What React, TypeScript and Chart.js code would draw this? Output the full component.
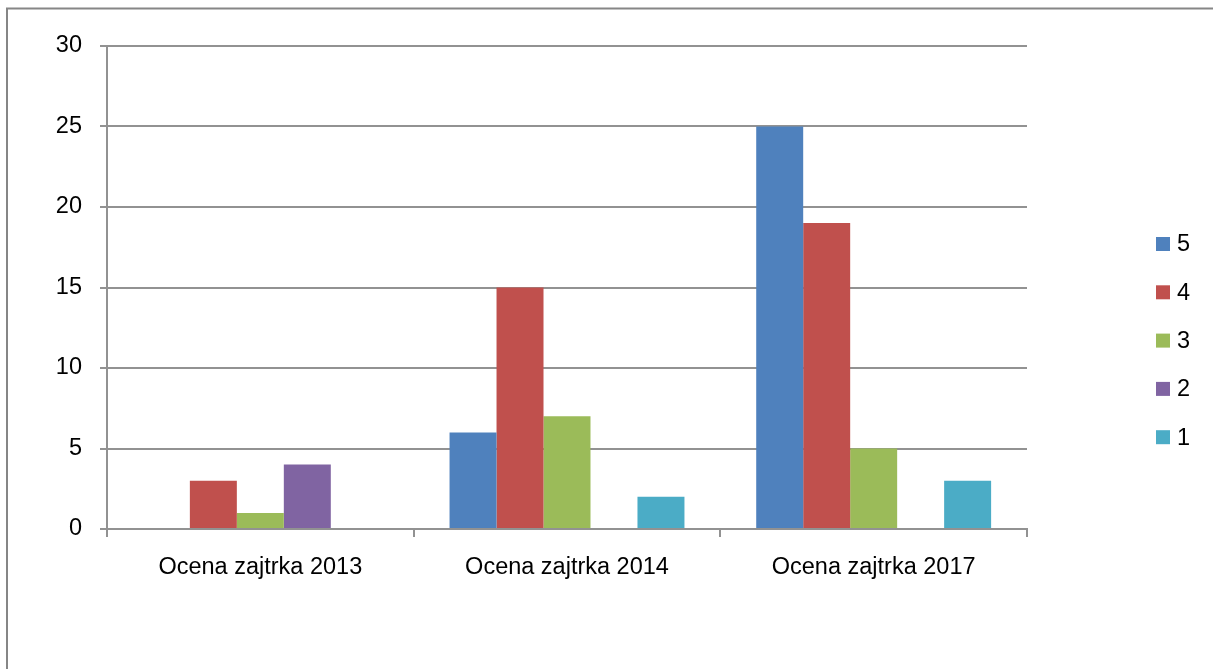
import React, { useEffect, useRef } from "react";
import { Chart, registerables } from "chart.js";

Chart.register(...registerables);

const categories = ["Ocena zajtrka 2013", "Ocena zajtrka 2014", "Ocena zajtrka 2017"];
const seriesLabels = ["5", "4", "3", "2", "1"];
const grade5 = [0, 6, 25];
const grade4 = [3, 15, 19];
const grade3 = [1, 7, 5];
const grade2 = [4, 0, 0];
const grade1 = [0, 2, 3];
const seriesValues = [grade5, grade4, grade3, grade2, grade1];
const seriesColors = ["#4F81BD", "#C0504D", "#9BBB59", "#8064A2", "#4BACC6"];
const yMax = 30;
const yStep = 5;

const FONT_FAMILY = '"Liberation Sans", Arial, sans-serif';
const FONT_SIZE = 23.5;
const GRID = "#929292";

const framePlugin = {
  id: "frame",
  beforeDraw(chart: any) {
    const ctx = chart.ctx;
    ctx.save();
    ctx.fillStyle = "#ffffff";
    ctx.fillRect(0, 0, chart.width, chart.height);
    ctx.strokeStyle = "#868686";
    ctx.lineWidth = 2;
    ctx.strokeRect(7, 8.5, chart.width + 50, chart.height + 50);
    ctx.restore();
  },
};

const legendPlugin = {
  id: "sideLegend",
  afterDraw(chart: any) {
    const ctx = chart.ctx;
    const x0 = chart.chartArea.right + 129;
    ctx.save();
    ctx.font = `${FONT_SIZE}px ${FONT_FAMILY}`;
    ctx.textBaseline = "middle";
    ctx.textAlign = "left";
    chart.data.datasets.forEach((ds: any, i: number) => {
      const cy = 244 + i * 48.3;
      ctx.fillStyle = ds.backgroundColor;
      ctx.fillRect(x0, cy - 7, 14, 14);
      ctx.fillStyle = "#000000";
      ctx.fillText(ds.label, x0 + 21, cy + 1);
    });
    ctx.restore();
  },
};

export default function App() {
  const ref = useRef<HTMLCanvasElement | null>(null);

  useEffect(() => {
    if (!ref.current) return;
    const chart = new Chart(ref.current, {
      type: "bar",
      data: {
        labels: categories,
        datasets: seriesLabels.map((label, i) => ({
          label,
          data: seriesValues[i],
          backgroundColor: seriesColors[i],
          borderWidth: 0,
          categoryPercentage: 0.766,
          barPercentage: 1.0,
        })),
      },
      options: {
        responsive: false,
        animation: false,
        devicePixelRatio: 1,
        layout: { padding: { left: 0, top: 46, right: 186, bottom: 0 } },
        plugins: {
          legend: { display: false },
          tooltip: { enabled: false },
        },
        scales: {
          x: {
            grid: {
              display: true,
              drawOnChartArea: false,
              drawTicks: true,
              tickLength: 8,
              color: GRID,
              lineWidth: 2,
              offset: true,
            },
            border: { display: true, color: GRID, width: 2 },
            ticks: {
              color: "#000000",
              font: { family: FONT_FAMILY, size: FONT_SIZE },
              padding: 16,
              maxRotation: 0,
              autoSkip: false,
            },
            afterFit(scale: any) {
              scale.height = 140;
            },
          },
          y: {
            min: 0,
            max: yMax,
            grid: {
              color: GRID,
              lineWidth: 2,
              drawTicks: true,
              tickLength: 7,
            },
            border: { display: true, color: GRID, width: 2 },
            ticks: {
              stepSize: yStep,
              color: "#000000",
              font: { family: FONT_FAMILY, size: FONT_SIZE },
              padding: 18,
            },
            afterFit(scale: any) {
              scale.width = 107;
            },
          },
        },
      },
      plugins: [framePlugin, legendPlugin],
    });
    return () => chart.destroy();
  }, []);

  return (
    <div style={{ position: "absolute", left: 0, top: 0, width: 1213, height: 669 }}>
      <canvas ref={ref} width={1213} height={669} style={{ display: "block" }} />
    </div>
  );
}
